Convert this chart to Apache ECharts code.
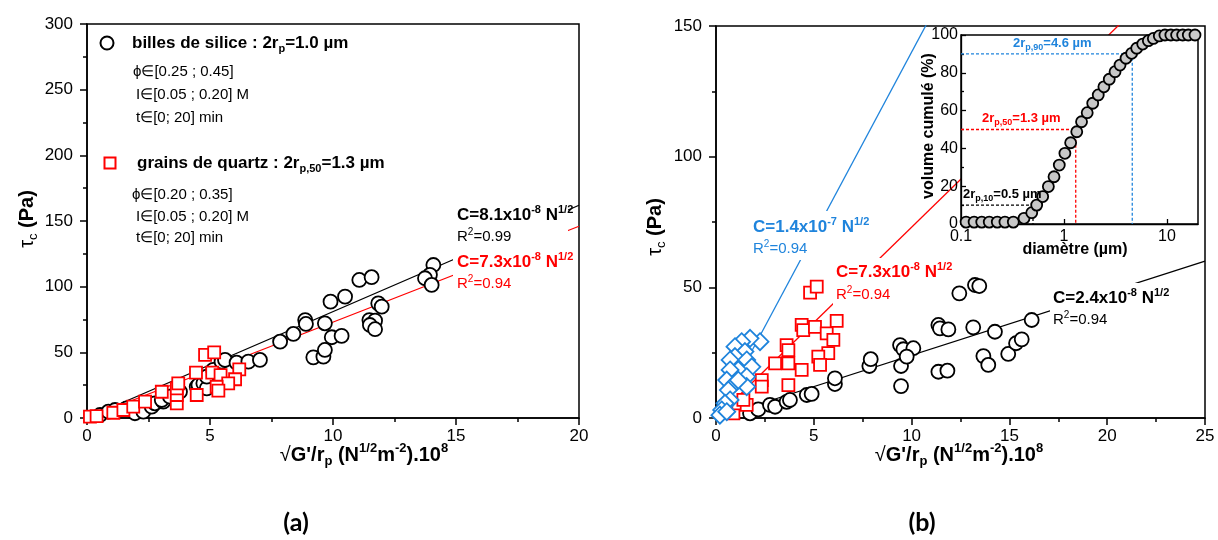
<!DOCTYPE html>
<html><head><meta charset="utf-8">
<script src="https://cdn.jsdelivr.net/npm/echarts@6/dist/echarts.min.js"></script>
<style>html,body{margin:0;padding:0;background:#fff}#c{width:1218px;height:540px}</style>
</head><body><div id="c"></div>
<script>
const F = '"Liberation Sans", Arial, sans-serif';
const RED = '#ff0000';
const BLUE = '#1f84dc';

// ---------- (a) data : tau_c vs sqrt(G')/rp ----------
const silicaA = [[0.53,2.3],[0.87,4.8],[1.14,6.1],[1.61,7.4],[1.95,3.6],[2.29,4.8],[2.63,8.6],[2.76,11.2],[3.1,12.4],[3.04,13.7],[3.37,16.2],[3.78,20],[4.46,23.8],[4.53,25.1],[4.73,26.4],[4.87,22.6],[4.87,31.5],[5.13,36.6],[5.47,42.9],[5.61,44.2],[6.08,42.1],[6.56,42.9],[7.03,44.2],[7.85,58.1],[8.39,64],[8.87,74.6],[8.9,71.6],[9.2,46.2],[9.61,46.7],[9.67,51.8],[9.67,72.1],[9.95,61.5],[10.35,62.5],[9.9,88.6],[10.49,92.4],[11.07,105.1],[11.57,107.2],[11.48,74.6],[11.71,74.1],[11.5,70.8],[11.71,67.6],[11.84,87.3],[11.98,84.8],[14.08,116.5],[13.94,109],[13.74,106.4],[14.01,101.3]];
const quartzA = [[0.12,1],[0.39,1.5],[1.07,4],[1.48,6.1],[1.88,8.6],[2.36,12.4],[3.04,20],[3.65,11.2],[3.65,17.5],[3.65,22.6],[3.71,26.4],[4.43,34.5],[4.46,17.5],[4.8,48],[5.17,50],[5.09,34.5],[5.43,32.7],[6.19,37],[6.02,29.5],[5.74,26.4],[5.27,23.8],[5.34,20.8]];
const fitSilicaA = [[0,0],[20,162]];
const fitQuartzA = [[0,0],[20,146]];

// ---------- (b) data ----------
const silicaB = [[1.74,1.8],[2.16,3.3],[2.76,5],[3.02,4.3],[3.61,6.2],[3.78,6.9],[4.64,8.8],[4.89,9.2],[6.08,13],[6.08,15.2],[7.84,19.9],[7.91,22.5],[9.46,19.9],[9.46,12.2],[9.41,27.9],[9.58,26.3],[10.09,26.7],[9.75,23.5],[11.37,35.6],[11.45,34.3],[11.88,33.9],[11.37,17.7],[11.83,18.1],[12.44,47.7],[13.24,50.9],[13.46,50.5],[13.15,34.7],[14.26,33],[13.67,23.7],[13.92,20.3],[14.94,24.5],[15.34,28.6],[15.63,30.1],[16.14,37.5]];
const quartzB = [[0.89,1.8],[1.14,5.6],[1.57,5],[1.4,6.9],[2.34,14.5],[2.34,12],[3.02,20.9],[3.61,27.9],[3.7,26],[3.7,20.9],[3.7,12.6],[4.38,18.4],[4.38,35.6],[4.46,33.6],[5.06,34.9],[6.17,37.2],[5.66,32.4],[6.0,29.9],[5.74,24.8],[5.23,23.5],[5.32,20.3],[4.81,48],[5.15,50.3]];
const powderB = [[2.25,29.2],[1.74,30.5],[1.31,29.2],[0.97,27.3],[1.48,25.4],[0.97,23.5],[0.72,22.2],[1.57,22.2],[1.83,19.6],[1.14,18.4],[0.72,18.4],[1.57,15.8],[0.55,14.5],[0.97,13.3],[1.57,12],[1.14,14.5],[0.63,10.7],[0.72,6.9],[0.46,5.6],[0.29,3.1],[0.2,1.1],[0.55,2.4]];
const fitSilicaB = [[0,0],[25,60]];
const fitQuartzB = [[0,0],[25,182.5]];
const fitPowderB = [[0,0],[12,168]];

// ---------- inset : particle size distribution ----------
const psdDiam = [0.112,0.134,0.159,0.188,0.225,0.267,0.322,0.409,0.486,0.543,0.621,0.705,0.8,0.9,1.02,1.16,1.33,1.48,1.68,1.9,2.15,2.44,2.75,3.13,3.5,4.0,4.54,5.08,5.81,6.59,7.37,8.42,9.55,10.9,12.4,14.2,16.1,18.7];
const psdCum  = [1,1,1,1,1,1,1,3,6,10,14.5,19.8,25,31.2,37.4,43,48.8,54.1,58.9,63.9,68.3,72.6,76.6,80.6,84.1,87.7,90.3,93,95.2,97,98.2,99.5,100,100,100,100,100,100];
const d10Guide = [[0.1,10],[0.5,10],[0.5,0]];
const d50Guide = [[0.1,50],[1.3,50],[1.3,0]];
const d90Guide = [[0.1,90],[4.6,90],[4.6,0]];

// axis ranges / ticks
const xRangeA = [0, 20, 5], yRangeA = [0, 300, 50];
const xRangeB = [0, 25, 5], yRangeB = [0, 150, 50];
const insetX = [0.1, 20], insetY = [0, 100, 20];

const R = {
  b: {fontSize:17, fontWeight:'bold', fontFamily:F, lineHeight:22},
  bs:{fontSize:11, fontWeight:'bold', fontFamily:F, lineHeight:11, verticalAlign:'top'},
  bd:{fontSize:11, fontWeight:'bold', fontFamily:F, lineHeight:11, verticalAlign:'bottom'},
  r: {fontSize:15, fontFamily:F, lineHeight:20},
  rs:{fontSize:10, fontFamily:F, lineHeight:10, verticalAlign:'top'},
  rt:{fontSize:20, fontFamily:F, lineHeight:26},
  rd:{fontSize:13, fontFamily:F, lineHeight:13, verticalAlign:'bottom'},
  t: {fontSize:20, fontWeight:'bold', fontFamily:F, lineHeight:26},
  ts:{fontSize:13, fontWeight:'bold', fontFamily:F, lineHeight:13, verticalAlign:'top'},
  td:{fontSize:13, fontWeight:'bold', fontFamily:F, lineHeight:13, verticalAlign:'bottom'},
  n: {fontSize:16, fontWeight:'bold', fontFamily:F, lineHeight:20},
  i: {fontSize:13, fontWeight:'bold', fontFamily:F, lineHeight:18},
  id:{fontSize:9, fontWeight:'bold', fontFamily:F, lineHeight:9, verticalAlign:'bottom'}
};

function T(x, y, text, fill, extra) {
  const st = {text, fill, rich:R, align:'left', verticalAlign:'middle', textAlign:'left', textVerticalAlign:'middle', fontFamily:F, fontSize:15};
  const e = {type:'text', x, y, z:101, style:st};
  if (extra) {
    if (extra.style) Object.assign(st, extra.style);
    for (const k in extra) if (k !== 'style') e[k] = extra[k];
  }
  return e;
}
function W(x, y, w, h) { return {type:'rect', shape:{x, y, width:w, height:h}, style:{fill:'#fff'}, z:100}; }

const xTitle = '{rt|√}{t|G\'/r}{td|p}{t| (N}{ts|1/2}{t|m}{ts|-2}{t|).10}{ts|8}';
const yTitle = '{rt|τ}{rd|c}{t| (Pa)}';
const C = {align:'center', textAlign:'center'};

const graphics = [
  // legend (a)
  {type:'circle', shape:{cx:107, cy:43, r:6.5}, style:{fill:'#fff', stroke:'#000', lineWidth:2}, z:101},
  T(132, 43, '{b|billes de silice : 2r}{bd|p}{b|=1.0 µm}', '#000'),
  T(133, 72, '{r|ϕ∈[0.25 ; 0.45]}', '#000'),
  T(136, 95, '{r|I∈[0.05 ; 0.20] M}', '#000'),
  T(136, 118, '{r|t∈[0; 20] min}', '#000'),
  {type:'rect', shape:{x:104.5, y:157.5, width:11, height:11}, style:{fill:'#fff', stroke:RED, lineWidth:2}, z:101},
  T(137, 163, '{b|grains de quartz : 2r}{bd|p,50}{b|=1.3 µm}', '#000'),
  T(132, 195, '{r|ϕ∈[0.20 ; 0.35]}', '#000'),
  T(136, 217, '{r|I∈[0.05 ; 0.20] M}', '#000'),
  T(136, 238, '{r|t∈[0; 20] min}', '#000'),
  // fit labels (a)
  W(453, 200, 115, 95),
  T(457, 215, '{b|C=8.1x10}{bs|-8}{b| N}{bs|1/2}', '#000'),
  T(457, 237, '{r|R}{rs|2}{r|=0.99}', '#000'),
  T(457, 262, '{b|C=7.3x10}{bs|-8}{b| N}{bs|1/2}', RED),
  T(457, 284, '{r|R}{rs|2}{r|=0.94}', RED),
  // fit labels (b)
  W(750, 211, 118, 49),
  T(753, 227, '{b|C=1.4x10}{bs|-7}{b| N}{bs|1/2}', BLUE),
  T(753, 249, '{r|R}{rs|2}{r|=0.94}', BLUE),
  W(833, 258, 116, 47),
  T(836, 272, '{b|C=7.3x10}{bs|-8}{b| N}{bs|1/2}', RED),
  T(836, 295, '{r|R}{rs|2}{r|=0.94}', RED),
  W(1050, 283, 118, 45),
  T(1053, 298, '{b|C=2.4x10}{bs|-8}{b| N}{bs|1/2}', '#000'),
  T(1053, 320, '{r|R}{rs|2}{r|=0.94}', '#000'),
  // axis titles
  T(364, 455, xTitle, '#000', {style:C}),
  T(959, 455, xTitle, '#000', {style:C}),
  T(27, 219, yTitle, '#000', {rotation:Math.PI/2, style:C}),
  T(655, 227, yTitle, '#000', {rotation:Math.PI/2, style:C}),
  T(296, 523, '(a)', '#000', {style:{align:'center', textAlign:'center', fontFamily:'Lato, sans-serif', fontWeight:'bold', fontSize:25}}),
  T(922, 523, '(b)', '#000', {style:{align:'center', textAlign:'center', fontFamily:'Lato, sans-serif', fontWeight:'bold', fontSize:25}}),
  // inset titles & annotations
  T(929, 126, '{n|volume cumulé (%)}', '#000', {zlevel:1, rotation:Math.PI/2, style:C}),
  T(1075, 250, '{n|diamètre (µm)}', '#000', {zlevel:1, style:C}),
  T(963, 194, '{i|2r}{id|p,10}{i|=0.5 µm}', '#000', {zlevel:1}),
  T(982, 118, '{i|2r}{id|p,50}{i|=1.3 µm}', RED, {zlevel:1}),
  T(1013, 43, '{i|2r}{id|p,90}{i|=4.6 µm}', BLUE, {zlevel:1})
];

const axLine = {show:true, onZero:false, lineStyle:{color:'#000', width:1.5}};
const tick = {show:true, length:7, lineStyle:{color:'#000', width:1.5}};
const minor = {show:true, splitNumber:2, length:4, lineStyle:{color:'#000', width:1.5}};
function vAxis(grid, r, isX) {
  return {type:'value', gridIndex:grid, min:r[0], max:r[1], interval:r[2],
    axisLine:axLine, axisTick:tick, minorTick:minor, splitLine:{show:false}, minorSplitLine:{show:false},
    axisLabel:{color:'#000', fontSize:17, fontFamily:F, margin: isX ? 10 : 14}};
}

function scatter(name, grid, data, symbol, size, color, fill) {
  return {name, type:'scatter', xAxisIndex:grid, yAxisIndex:grid, data, symbol, symbolSize:size,
    itemStyle:{color:fill || '#fff', borderColor:color, borderWidth:1.8, opacity:1}, z:3, emphasis:{disabled:true}};
}
function fit(grid, data, color) {
  return {type:'line', xAxisIndex:grid, yAxisIndex:grid, data, symbol:'none', clip:true, z:1,
    lineStyle:{color, width:1.3}, emphasis:{disabled:true}};
}
function guide(data, color) {
  return {type:'line', xAxisIndex:2, yAxisIndex:2, data, symbol:'none', zlevel:1, z:2,
    lineStyle:{color, width:1.3, type:[3,2]}, emphasis:{disabled:true}};
}

const option = {
  animation:false,
  backgroundColor:'#fff',
  grid:[
    {left:87, top:24, width:492, height:394, show:true, borderColor:'#000', borderWidth:1.5, backgroundColor:'transparent'},
    {left:716, top:26, width:489, height:392, show:true, borderColor:'#000', borderWidth:1.5, backgroundColor:'transparent'},
    {left:961, top:35, width:237, height:189, show:true, borderColor:'#000', borderWidth:1.5, backgroundColor:'#fff', zlevel:1}
  ],
  xAxis:[
    vAxis(0, xRangeA, true),
    vAxis(1, xRangeB, true),
    {type:'log', gridIndex:2, min:insetX[0], max:insetX[1], logBase:10, zlevel:1,
      axisLine:{show:true, onZero:false, lineStyle:{color:'#000', width:1.3}},
      axisTick:{show:true, inside:true, length:5, lineStyle:{color:'#000', width:1.3}},
      splitLine:{show:false},
      axisLabel:{color:'#000', fontSize:16, fontFamily:F, margin:5, showMaxLabel:false,
        formatter:v => (Math.abs(v-0.1)<1e-9 ? '0.1' : String(Math.round(v)))}}
  ],
  yAxis:[
    vAxis(0, yRangeA, false),
    vAxis(1, yRangeB, false),
    {type:'value', gridIndex:2, min:insetY[0], max:insetY[1], interval:insetY[2], zlevel:1,
      axisLine:{show:true, onZero:false, lineStyle:{color:'#000', width:1.3}},
      axisTick:{show:true, inside:true, length:5, lineStyle:{color:'#000', width:1.3}},
      minorTick:{show:true, inside:true, splitNumber:2, length:3, lineStyle:{color:'#000', width:1.3}},
      splitLine:{show:false},
      axisLabel:{color:'#000', fontSize:16, fontFamily:F, margin:3}}
  ],
  series:[
    fit(0, fitSilicaA, '#000'),
    fit(0, fitQuartzA, RED),
    scatter('silice', 0, silicaA, 'circle', 14, '#000'),
    scatter('quartz', 0, quartzA, 'rect', 12, RED),
    fit(1, fitSilicaB, '#000'),
    fit(1, fitQuartzB, RED),
    fit(1, fitPowderB, BLUE),
    scatter('silice', 1, silicaB, 'circle', 14, '#000'),
    scatter('quartz', 1, quartzB, 'rect', 12, RED),
    scatter('poudre', 1, powderB, 'diamond', 17, BLUE),
    guide(d10Guide, '#000'),
    guide(d50Guide, RED),
    guide(d90Guide, BLUE),
    Object.assign(scatter('psd', 2, psdDiam.map((d,i)=>[d, psdCum[i]]), 'circle', 11, '#000', '#c8c8c8'), {zlevel:1, z:3})
  ],
  graphic:{elements:graphics}
};
const chart = echarts.init(document.getElementById('c'), null, {renderer:'canvas'});
chart.setOption(option);
</script></body></html>
